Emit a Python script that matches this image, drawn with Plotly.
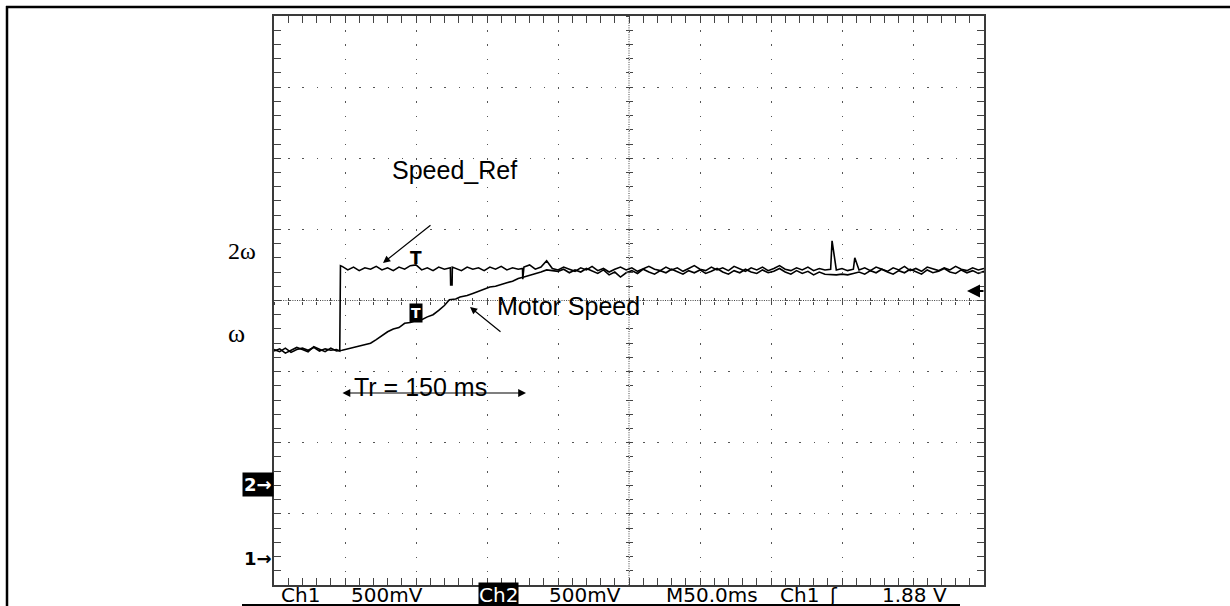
import plotly.graph_objects as go

# ---------------- data (time in ms, amplitude in screen divisions) ----------------
ref_t = (list(range(0, 45, 4)) + [46.3, 46.5, 46.8] + list(range(48, 121, 4))
         + [124.2, 124.4, 125.4, 125.6] + list(range(128, 173, 4)) + [175, 175.2, 176]
         + list(range(180, 197, 4)) + list(range(200, 393, 4)) + [393]
         + list(range(396, 409, 4)) + [409] + list(range(412, 501, 4)))
ref_v = ([3.31, 3.28, 3.33, 3.27, 3.31, 3.33, 3.30, 3.34, 3.29, 3.32, 3.30, 3.31]
         + [3.29, 3.85, 4.49]
         + [4.48, 4.43, 4.47, 4.42, 4.46, 4.44, 4.48, 4.43, 4.46, 4.42, 4.47, 4.44, 4.49, 4.50,
            4.43, 4.46, 4.42, 4.47, 4.44]
         + [4.46, 4.22, 4.22, 4.47]
         + [4.45, 4.42, 4.47, 4.44, 4.46, 4.42, 4.47, 4.44, 4.48, 4.43, 4.46, 4.44, 4.45, 4.30, 4.47]
         + [4.50, 4.44, 4.47, 4.56, 4.45]
         + [4.43, 4.47, 4.44, 4.41, 4.46, 4.43, 4.48, 4.42, 4.45, 4.40,
            4.44, 4.47, 4.43, 4.46, 4.41, 4.45, 4.48, 4.44, 4.42, 4.47,
            4.43, 4.46, 4.41, 4.45, 4.49, 4.44, 4.42, 4.47, 4.43, 4.46,
            4.42, 4.48, 4.44, 4.41, 4.46, 4.43, 4.47, 4.42, 4.45, 4.49,
            4.44, 4.42, 4.46, 4.43, 4.47, 4.42, 4.45, 4.43, 4.44]
         + [4.84]
         + [4.43, 4.45, 4.42, 4.44]
         + [4.60]
         + [4.43, 4.46, 4.42, 4.47, 4.44, 4.41, 4.46, 4.43, 4.48, 4.42,
            4.45, 4.41, 4.47, 4.44, 4.42, 4.46, 4.43, 4.48, 4.44, 4.42,
            4.46, 4.43, 4.45])

motor_t = (list(range(0, 121, 4)) + [123.5, 128, 131] + list(range(136, 197, 4))
           + list(range(200, 501, 4)))
motor_v = ([3.29, 3.32, 3.26, 3.30, 3.34, 3.31, 3.28, 3.35, 3.31, 3.28, 3.33, 3.29,
            3.30, 3.32, 3.34, 3.35, 3.37, 3.40, 3.45, 3.51, 3.56, 3.60,
            3.62, 3.68, 3.69, 3.72, 3.73, 3.77, 3.80, 3.86, 3.93]
           + [4.01, 4.02, 4.05]
           + [4.07, 4.10, 4.13, 4.15, 4.19, 4.20, 4.23, 4.25, 4.27, 4.31, 4.33, 4.35, 4.37,
              4.40, 4.43, 4.42]
           + [4.41, 4.44, 4.39, 4.43, 4.40, 4.45, 4.41, 4.38, 4.43, 4.36,
              4.40, 4.33, 4.39, 4.42, 4.38, 4.44, 4.40, 4.37, 4.42, 4.39,
              4.44, 4.40, 4.37, 4.42, 4.39, 4.43, 4.38, 4.41, 4.45, 4.40,
              4.37, 4.42, 4.39, 4.44, 4.40, 4.38, 4.43, 4.39, 4.41, 4.45,
              4.40, 4.37, 4.42, 4.38, 4.41, 4.36, 4.40, 4.37, 4.36, 4.36,
              4.37, 4.36, 4.38, 4.40, 4.37, 4.42, 4.39, 4.44, 4.40, 4.37,
              4.42, 4.39, 4.44, 4.40, 4.37, 4.43, 4.39, 4.41, 4.45, 4.40,
              4.38, 4.43, 4.39, 4.42, 4.38, 4.41])

bottom_labels = ["Ch1", "500mV", "Ch2", "500mV", "M50.0ms", "Ch1", "ʃ", "1.88 V"]
bottom_label_px = [300, 387, 498, 585, 712, 799, 833, 914]

X_RANGE = [0, 500]    # 10 div x 50 ms
Y_RANGE = [0, 8]      # 8 vertical divisions

# ---------------- geometry ----------------
W, H = 1230, 606
L, R, T, B = 274, 246, 16, 21
PW, PH = W - L - R, H - T - B


def pxx(p):
    return (p - L) / PW


def pxy(p):
    return (H - B - p) / PH


fig = go.Figure()
fig.add_trace(go.Scatter(x=ref_t, y=ref_v, mode="lines", name="Speed_Ref",
                         line=dict(color="black", width=1.6), showlegend=False))
fig.add_trace(go.Scatter(x=motor_t, y=motor_v, mode="lines", name="Motor Speed",
                         line=dict(color="black", width=1.6), showlegend=False))
# empty helpers so the centre-graticule axes get drawn
for xa, ya in [("x2", "y"), ("x3", "y"), ("x", "y2"), ("x", "y3")]:
    fig.add_trace(go.Scatter(x=[], y=[], xaxis=xa, yaxis=ya, showlegend=False, hoverinfo="skip"))

frame = dict(showline=True, linecolor="#3a3a3a", linewidth=2, mirror="allticks",
             ticks="inside", tickcolor="#444", tickwidth=1, showticklabels=False,
             zeroline=False, showgrid=True, gridcolor="#555", gridwidth=1.4)
centre = dict(showticklabels=False, showgrid=False, showline=False, zeroline=False,
              tickcolor="#444", tickwidth=1, ticklen=3)

fig.update_layout(
    width=W, height=H, autosize=False,
    margin=dict(l=L, r=R, t=T, b=B),
    paper_bgcolor="white", plot_bgcolor="white",
    xaxis=dict(range=X_RANGE, dtick=50, tick0=0, ticklen=7,
               griddash=f"1.4px,{PH / 40 - 1.4:.3f}px",
               minor=dict(dtick=10, ticks="inside", ticklen=4, tickcolor="#444", showgrid=False),
               **frame),
    yaxis=dict(range=Y_RANGE, dtick=1, tick0=0, ticklen=7,
               griddash=f"1.4px,{PW / 50 - 1.4:.3f}px",
               minor=dict(dtick=0.2, ticks="inside", ticklen=4, tickcolor="#444", showgrid=False),
               **frame),
    xaxis2=dict(overlaying="x", anchor="free", position=0.5, range=X_RANGE, dtick=10,
                ticks="outside", **centre),
    xaxis3=dict(overlaying="x", anchor="free", position=0.5, range=X_RANGE, dtick=10,
                ticks="inside", **centre),
    yaxis2=dict(overlaying="y", anchor="free", position=0.5, range=Y_RANGE, dtick=0.2,
                ticks="outside", **centre),
    yaxis3=dict(overlaying="y", anchor="free", position=0.5, range=Y_RANGE, dtick=0.2,
                ticks="inside", **centre),
)

shapes = [
    # dense centre lines of the graticule
    dict(type="line", xref="x", yref="paper", x0=250, x1=250, y0=0, y1=1,
         line=dict(color="#444", width=1, dash="1px,1.3px"), layer="below"),
    dict(type="line", xref="paper", yref="y", x0=0, x1=1, y0=4, y1=4,
         line=dict(color="#444", width=1, dash="1px,1.3px"), layer="below"),
    # outer page frame
    dict(type="line", xref="paper", yref="paper", x0=pxx(6), x1=pxx(1232), y0=pxy(7), y1=pxy(7),
         line=dict(color="black", width=2.5)),
    dict(type="line", xref="paper", yref="paper", x0=pxx(7), x1=pxx(7), y0=pxy(6), y1=pxy(610),
         line=dict(color="black", width=2.5)),
    # underline of the status bar
    dict(type="line", xref="paper", yref="paper", x0=pxx(242), x1=pxx(960), y0=pxy(605), y1=pxy(605),
         line=dict(color="black", width=2)),
]
fig.update_layout(shapes=shapes)

ann = []
arial = "Liberation Sans, Arial, sans-serif"
times = "Liberation Serif, Times New Roman, serif"
scope = "DejaVu Sans, sans-serif"


def label(text, px, py, **kw):
    d = dict(text=text, xref="paper", yref="paper", x=pxx(px), y=pxy(py),
             xanchor="center", yanchor="middle", showarrow=False)
    d.update(kw)
    ann.append(d)


def arrow(hx, hy, tx, ty, **kw):
    d = dict(text="", xref="paper", yref="paper", x=pxx(hx), y=pxy(hy),
             ax=tx - hx, ay=ty - hy, showarrow=True, arrowhead=2, arrowsize=1.2,
             arrowwidth=1.2, arrowcolor="black")
    d.update(kw)
    ann.append(d)


label("Speed_Ref", 454, 170, font=dict(family=arial, size=25, color="black"))
label("Motor Speed", 568, 306, font=dict(family=arial, size=25, color="black"))
label("Tr = 150 ms", 420, 387, font=dict(family=arial, size=25, color="black"))
arrow(383, 263, 432, 224)
arrow(470, 307, 502, 333)
arrow(526, 393, 341, 393, arrowside="end+start", arrowsize=1.3)
arrow(967, 291, 985, 291, arrowsize=1.3, arrowwidth=2)   # trigger level marker
label("2ω", 242, 251, font=dict(family=times, size=24, color="black"))
label("ω", 236, 333, font=dict(family=times, size=26, color="black"))
label("<b>2→</b>", 258, 485, bgcolor="black", borderpad=1,
      font=dict(family=scope, size=18, color="white"))
label("<b>1→</b>", 258, 558, font=dict(family=scope, size=18, color="black"))
label("<b>T</b>", 416, 258, font=dict(family=scope, size=17, color="black"))
label("<b>T</b>", 416, 313, bgcolor="black", borderpad=1,
      font=dict(family=scope, size=14, color="white"))
for lab, p in zip(bottom_labels, bottom_label_px):
    inv = lab == "Ch2" and p == 498
    label(lab, p, 595, borderpad=0,
          bgcolor="black" if inv else "rgba(0,0,0,0)",
          font=dict(family=scope, size=20, color="white" if inv else "black"))
fig.update_layout(annotations=ann)

fig.write_html("out.html", config={"displayModeBar": False},
               post_script="document.body.style.margin='0';")
